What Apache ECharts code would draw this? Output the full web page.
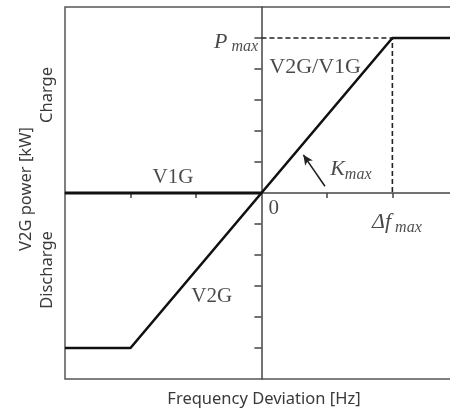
<!DOCTYPE html>
<html>
<head>
<meta charset="utf-8">
<script src="https://cdn.jsdelivr.net/npm/echarts@6/dist/echarts.min.js"></script>
<style>
  html, body { margin: 0; padding: 0; background: #fff; }
  #chart { width: 450px; height: 410px; }
</style>
</head>
<body>
<div id="chart"></div>
<script>
// Droop characteristic: V2G power vs frequency deviation (normalised units)
const curveFreq = [-3, -2, 2, 2.88];   // frequency deviation
const curvePower = [-5, -5, 5, 5];     // V2G/V1G power
const v1gFreq = [-3, 0];               // V1G (charge-only) branch
const v1gPower = [0, 0];
const pMax = 5;                        // P max
const dfMax = 2;                       // Δf max

const xMin = -3, xMax = 2.88, yMin = -6, yMax = 6;

const serif = '"Liberation Serif", "DejaVu Serif", serif';
const sans = '"Noto Sans", "DejaVu Sans", sans-serif';

const zip = (a, b) => a.map((v, i) => [v, b[i]]);

const richSub = {
  m: { fontFamily: serif, fontStyle: 'italic', fontSize: 22, color: '#1a1a1a', lineHeight: 26 },
  s: { fontFamily: serif, fontStyle: 'italic', fontSize: 16, color: '#222', verticalAlign: 'bottom', lineHeight: 27 },
  r: { fontFamily: serif, fontSize: 21, color: '#1a1a1a' },
  w: { fontFamily: serif, fontSize: 22, color: '#1a1a1a' }
};

// text annotations placed in data space
const notes = [
  { value: [-0.05, 4.88], text: '{m|P}{s| max}', align: 'right' },
  { value: [0.12, 4.05], text: '{w|V2G/V1G}', align: 'left' },
  { value: [-1.35, 0.5], text: '{r|V1G}', align: 'center' },
  { value: [1.05, 0.78], text: '{m|K}{s|max}', align: 'left' },
  { value: [0.19, -0.5], text: '{r|0}', align: 'center' },
  { value: [1.69, -0.95], text: '{m|Δf}{s| max}', align: 'left' },
  { value: [-0.76, -3.35], text: '{r|V2G}', align: 'center' }
];

const G = { left: 65, top: 7, right: 0, height: 372 };

const chart = echarts.init(document.getElementById('chart'));
chart.setOption({
  animation: false,
  grid: { left: G.left, top: G.top, right: G.right, height: G.height, show: false },
  xAxis: {
    type: 'value', min: xMin, max: xMax, interval: 1,
    axisLine: { onZero: true, lineStyle: { color: '#444', width: 1.5 } },
    axisTick: { show: true, length: 5, lineStyle: { color: '#444', width: 1.5 },
      customValues: [-2, -1, 1, 2] },
    axisLabel: { show: false },
    splitLine: { show: false }
  },
  yAxis: {
    type: 'value', min: yMin, max: yMax, interval: 1,
    axisLine: { onZero: true, lineStyle: { color: '#444', width: 1.5 } },
    axisTick: { show: true, length: 7, lineStyle: { color: '#444', width: 1.5 },
      customValues: [-5, -4, -3, -2, -1, 1, 2, 3, 4, 5] },
    axisLabel: { show: false },
    splitLine: { show: false }
  },
  graphic: [
    // open frame: top, left and bottom edges of the plot area
    { type: 'polyline', silent: true,
      shape: { points: [[450, G.top], [G.left, G.top], [G.left, G.top + G.height], [450, G.top + G.height]] },
      style: { stroke: '#555', lineWidth: 1.5, fill: null } },
    { type: 'text', x: 264, y: 399,
      style: { text: 'Frequency Deviation [Hz]', font: '16.5px ' + sans, fill: '#3a3a3a', align: 'center', verticalAlign: 'middle' } },
    { type: 'text', x: 26, y: 189, rotation: Math.PI / 2,
      style: { text: 'V2G power [kW]', font: '16.5px ' + sans, fill: '#3a3a3a', align: 'center', verticalAlign: 'middle' } },
    { type: 'text', x: 47, y: 95, rotation: Math.PI / 2,
      style: { text: 'Charge', font: '16.5px ' + sans, fill: '#3a3a3a', align: 'center', verticalAlign: 'middle' } },
    { type: 'text', x: 47, y: 270, rotation: Math.PI / 2,
      style: { text: 'Discharge', font: '16.5px ' + sans, fill: '#3a3a3a', align: 'center', verticalAlign: 'middle' } }
  ],
  series: [
    {
      type: 'line', data: zip(v1gFreq, v1gPower), symbol: 'none',
      lineStyle: { color: '#111', width: 3 }, z: 3
    },
    {
      type: 'line', data: zip(curveFreq, curvePower), symbol: 'none',
      lineStyle: { color: '#111', width: 2.6 }, z: 4
    },
    {
      type: 'line', data: [[0, pMax], [dfMax, pMax], [dfMax, 0]], symbol: 'none',
      lineStyle: { color: '#222', width: 1.6, type: [5, 3] }, z: 2
    },
    {
      // arrow pointing at the slope K max
      type: 'line', data: [], symbol: 'none',
      markLine: {
        silent: true, symbol: ['none', 'arrow'], symbolSize: [7, 10],
        label: { show: false },
        lineStyle: { color: '#222', width: 1.6, type: 'solid' },
        data: [[{ coord: [0.97, 0.22] }, { coord: [0.64, 1.23] }]]
      }
    },
    {
      type: 'scatter', symbolSize: 0, silent: true, z: 5,
      data: notes.map(n => ({
        value: n.value,
        label: {
          show: true, position: 'inside', formatter: n.text, rich: richSub,
          align: n.align, verticalAlign: 'middle'
        }
      }))
    }
  ]
});
</script>
</body>
</html>
